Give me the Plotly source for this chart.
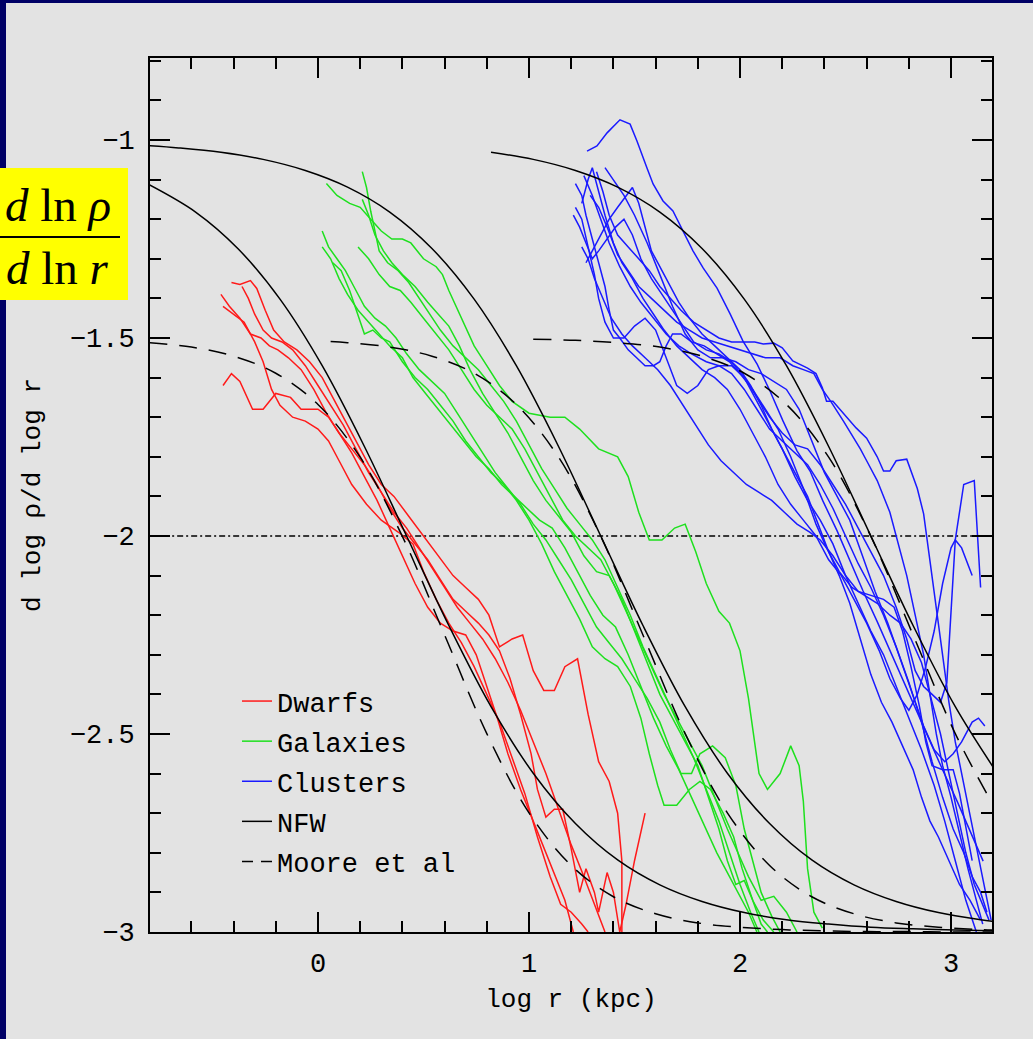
import plotly.graph_objects as go

# ---------------- data ----------------
# Theory curves
nfw_dwarf_x = [-0.8, -0.58, -0.38, -0.18, 0.02, 0.22, 0.42, 0.62, 0.82, 1.02, 1.22, 1.42, 1.62, 1.82, 2.02, 2.22, 2.42, 2.62, 2.82, 3.02, 3.2]
nfw_dwarf_y = [-1.113, -1.182, -1.274, -1.402, -1.570, -1.774, -2.0, -2.226, -2.431, -2.599, -2.726, -2.818, -2.881, -2.923, -2.951, -2.969, -2.980, -2.988, -2.992, -2.995, -2.997]

nfw_gal_x = [-0.8, -0.66, -0.46, -0.26, -0.06, 0.14, 0.34, 0.54, 0.74, 0.94, 1.14, 1.34, 1.54, 1.74, 1.94, 2.14, 2.34, 2.54, 2.74, 2.94, 3.14, 3.2]
nfw_gal_y = [-1.0145, -1.020, -1.031, -1.049, -1.077, -1.119, -1.182, -1.274, -1.402, -1.570, -1.774, -2.0, -2.226, -2.431, -2.599, -2.726, -2.818, -2.881, -2.923, -2.951, -2.969, -2.973]

nfw_clu_x = [0.82, 1.02, 1.22, 1.42, 1.62, 1.82, 2.02, 2.22, 2.42, 2.62, 2.82, 3.02, 3.2]
nfw_clu_y = [-1.031, -1.049, -1.077, -1.119, -1.182, -1.274, -1.402, -1.570, -1.774, -2.0, -2.226, -2.431, -2.584]

moore_dwarf_x = [-0.8, -0.6, -0.4, -0.2, 0.0, 0.2, 0.4, 0.6, 0.8, 1.0, 1.2, 1.4, 1.6, 1.8, 2.0, 2.2, 2.4, 2.6, 2.8, 3.0, 3.2]
moore_dwarf_y = [-1.512, -1.523, -1.546, -1.589, -1.668, -1.801, -2.001, -2.25, -2.499, -2.699, -2.832, -2.911, -2.954, -2.977, -2.988, -2.994, -2.997, -2.999, -2.999, -3.0, -3.0]

moore_gal_x = [0.06, 0.14, 0.34, 0.54, 0.74, 0.94, 1.14, 1.34, 1.54, 1.74, 1.94, 2.14, 2.34, 2.54, 2.74, 2.94, 3.14, 3.2]
moore_gal_y = [-1.509, -1.512, -1.523, -1.546, -1.589, -1.668, -1.801, -2.001, -2.25, -2.499, -2.699, -2.832, -2.911, -2.954, -2.977, -2.988, -2.994, -2.995]

moore_clu_x = [1.02, 1.22, 1.42, 1.62, 1.82, 2.02, 2.22, 2.42, 2.62, 2.82, 3.02, 3.2]
moore_clu_y = [-1.503, -1.506, -1.512, -1.523, -1.546, -1.589, -1.668, -1.801, -2.001, -2.25, -2.499, -2.68]

ref_x = [-0.8, 3.2]
ref_y = [-2.0, -2.0]

# Dwarfs
dwarf1_x = [-0.41, -0.37, -0.32, -0.29, -0.25, -0.21, -0.16, -0.10, -0.04, 0.02, 0.07, 0.12, 0.18, 0.24, 0.30, 0.36, 0.43, 0.50, 0.57, 0.64, 0.70, 0.76, 0.81, 0.86, 0.92, 0.97, 1.02, 1.07, 1.12, 1.17, 1.23, 1.28, 1.33, 1.38, 1.42, 1.44, 1.44]
dwarf1_y = [-1.36, -1.365, -1.355, -1.375, -1.43, -1.48, -1.51, -1.53, -1.56, -1.60, -1.65, -1.70, -1.76, -1.82, -1.87, -1.90, -1.95, -2.00, -2.05, -2.10, -2.13, -2.16, -2.20, -2.28, -2.26, -2.25, -2.34, -2.39, -2.39, -2.33, -2.31, -2.45, -2.57, -2.62, -2.70, -2.82, -3.0]
dwarf2_x = [-0.46, -0.42, -0.37, -0.32, -0.27, -0.23, -0.19, -0.14, -0.08, -0.02, 0.04, 0.10, 0.16, 0.22, 0.28, 0.34, 0.40, 0.46, 0.52, 0.58, 0.64, 0.70, 0.76, 0.81, 0.86, 0.91, 0.96, 1.01, 1.04, 1.08, 1.12, 1.16, 1.20, 1.24, 1.27, 1.31, 1.33, 1.37, 1.40, 1.43, 1.46, 1.50, 1.55]
dwarf2_y = [-1.39, -1.42, -1.45, -1.49, -1.50, -1.52, -1.53, -1.55, -1.58, -1.63, -1.69, -1.74, -1.78, -1.82, -1.87, -1.93, -1.98, -2.02, -2.06, -2.11, -2.16, -2.19, -2.22, -2.25, -2.29, -2.36, -2.45, -2.55, -2.64, -2.71, -2.69, -2.69, -2.79, -2.90, -2.84, -2.90, -2.95, -2.85, -2.90, -3.0, -2.93, -2.82, -2.70]
dwarf3_x = [-0.45, -0.40, -0.35, -0.30, -0.26, -0.22, -0.18, -0.12, -0.06, 0.0, 0.05, 0.10, 0.16, 0.23, 0.30, 0.38, 0.45, 0.50, 0.56, 0.62, 0.68, 0.74, 0.80, 0.86, 0.92, 0.98, 1.04, 1.10, 1.15, 1.20, 1.25, 1.28]
dwarf3_y = [-1.42, -1.44, -1.46, -1.51, -1.56, -1.63, -1.67, -1.70, -1.71, -1.73, -1.76, -1.81, -1.87, -1.92, -1.96, -1.99, -2.02, -2.09, -2.16, -2.22, -2.27, -2.33, -2.40, -2.47, -2.56, -2.65, -2.76, -2.86, -2.93, -2.95, -2.98, -3.0]
dwarf4_x = [-0.45, -0.41, -0.37, -0.31, -0.26, -0.20, -0.13, -0.08, 0.0, 0.05, 0.10, 0.16, 0.22, 0.28, 0.34, 0.40, 0.46, 0.52, 0.58, 0.64, 0.70, 0.75, 0.80, 0.85, 0.90, 0.96, 1.02, 1.08, 1.12, 1.17, 1.21]
dwarf4_y = [-1.62, -1.59, -1.61, -1.68, -1.68, -1.64, -1.65, -1.68, -1.68, -1.70, -1.74, -1.79, -1.85, -1.91, -1.98, -2.05, -2.12, -2.18, -2.22, -2.24, -2.25, -2.30, -2.38, -2.46, -2.55, -2.64, -2.72, -2.80, -2.85, -2.92, -3.0]
dwarf5_x = [-0.36, -0.33, -0.30, -0.26, -0.22, -0.17, -0.12, -0.06, 0.0, 0.06, 0.12, 0.18, 0.24, 0.30, 0.36, 0.42, 0.48, 0.54, 0.60, 0.66, 0.72, 0.78, 0.84, 0.90, 0.96, 1.02, 1.08, 1.14, 1.20, 1.26, 1.31, 1.36]
dwarf5_y = [-1.37, -1.40, -1.44, -1.48, -1.50, -1.51, -1.53, -1.57, -1.62, -1.67, -1.72, -1.78, -1.84, -1.89, -1.94, -1.98, -2.03, -2.08, -2.13, -2.18, -2.22, -2.26, -2.31, -2.37, -2.44, -2.52, -2.60, -2.69, -2.78, -2.86, -2.93, -3.0]

# Galaxies
gal1_x = [0.21, 0.23, 0.25, 0.27, 0.29, 0.33, 0.38, 0.43, 0.48, 0.53, 0.58, 0.64, 0.70, 0.76, 0.82, 0.88, 0.94, 1.00, 1.06, 1.12, 1.18, 1.24, 1.30, 1.36, 1.42, 1.48, 1.54, 1.60, 1.66, 1.72, 1.78, 1.84, 1.90, 1.95, 2.00, 2.05, 2.09]
gal1_y = [-1.08, -1.12, -1.18, -1.23, -1.28, -1.31, -1.33, -1.36, -1.40, -1.44, -1.48, -1.52, -1.55, -1.58, -1.62, -1.66, -1.71, -1.77, -1.83, -1.88, -1.93, -1.97, -2.01, -2.06, -2.13, -2.20, -2.28, -2.35, -2.42, -2.49, -2.56, -2.64, -2.72, -2.80, -2.88, -2.95, -3.0]
gal2_x = [0.04, 0.09, 0.15, 0.20, 0.25, 0.30, 0.35, 0.40, 0.44, 0.50, 0.56, 0.59, 0.62, 0.68, 0.74, 0.80, 0.86, 0.92, 1.00, 1.10, 1.17, 1.24, 1.33, 1.42, 1.47, 1.52, 1.57, 1.63, 1.69, 1.74, 1.79, 1.84, 1.90, 1.95, 2.00, 2.04, 2.07, 2.09, 2.13, 2.19, 2.24, 2.28, 2.30, 2.32, 2.35, 2.39]
gal2_y = [-1.11, -1.14, -1.16, -1.17, -1.20, -1.23, -1.25, -1.25, -1.26, -1.30, -1.32, -1.34, -1.38, -1.45, -1.52, -1.57, -1.62, -1.66, -1.69, -1.70, -1.70, -1.73, -1.78, -1.80, -1.85, -1.94, -2.01, -2.01, -1.98, -1.97, -2.04, -2.12, -2.19, -2.22, -2.29, -2.41, -2.52, -2.60, -2.64, -2.60, -2.53, -2.58, -2.67, -2.84, -2.95, -2.99]
gal3_x = [0.21, 0.24, 0.27, 0.31, 0.35, 0.40, 0.46, 0.52, 0.57, 0.62, 0.67, 0.72, 0.78, 0.84, 0.90, 0.96, 1.02, 1.08, 1.14, 1.20, 1.26, 1.32, 1.38, 1.44, 1.50, 1.56, 1.62, 1.68, 1.74, 1.80, 1.85, 1.90, 1.94, 1.98, 2.02, 2.06, 2.10, 2.13]
gal3_y = [-1.15, -1.19, -1.24, -1.28, -1.31, -1.34, -1.37, -1.41, -1.44, -1.47, -1.52, -1.58, -1.64, -1.69, -1.74, -1.80, -1.86, -1.91, -1.95, -1.99, -2.05, -2.09, -2.10, -2.16, -2.24, -2.32, -2.40, -2.46, -2.52, -2.58, -2.66, -2.74, -2.82, -2.88, -2.87, -2.92, -2.98, -3.0]
gal4_x = [0.02, 0.05, 0.09, 0.13, 0.17, 0.22, 0.27, 0.32, 0.37, 0.42, 0.48, 0.54, 0.60, 0.66, 0.72, 0.78, 0.84, 0.90, 0.96, 1.02, 1.08, 1.14, 1.20, 1.26, 1.32, 1.38, 1.44, 1.50, 1.56, 1.62, 1.67, 1.72, 1.77, 1.81, 1.87, 1.93, 1.98, 2.02, 2.06, 2.10, 2.15, 2.19]
gal4_y = [-1.23, -1.27, -1.30, -1.33, -1.37, -1.42, -1.45, -1.47, -1.50, -1.54, -1.58, -1.61, -1.64, -1.69, -1.74, -1.79, -1.84, -1.88, -1.92, -1.97, -2.01, -2.06, -2.11, -2.17, -2.23, -2.27, -2.31, -2.36, -2.41, -2.47, -2.54, -2.60, -2.60, -2.55, -2.53, -2.56, -2.63, -2.74, -2.82, -2.90, -2.96, -3.0]
gal5_x = [0.02, 0.06, 0.10, 0.14, 0.19, 0.24, 0.29, 0.34, 0.40, 0.45, 0.51, 0.57, 0.63, 0.69, 0.75, 0.81, 0.87, 0.93, 0.99, 1.05, 1.11, 1.17, 1.23, 1.29, 1.35, 1.41, 1.47, 1.53, 1.59, 1.65, 1.71, 1.77, 1.83, 1.89, 1.94, 1.99, 2.04, 2.08]
gal5_y = [-1.27, -1.30, -1.35, -1.39, -1.43, -1.46, -1.49, -1.52, -1.55, -1.60, -1.64, -1.68, -1.72, -1.76, -1.80, -1.83, -1.87, -1.90, -1.93, -1.96, -1.98, -2.03, -2.09, -2.15, -2.20, -2.23, -2.30, -2.38, -2.46, -2.53, -2.59, -2.66, -2.73, -2.80, -2.85, -2.90, -2.95, -3.0]
gal6_x = [0.19, 0.24, 0.29, 0.34, 0.39, 0.44, 0.50, 0.56, 0.62, 0.68, 0.74, 0.80, 0.86, 0.92, 0.98, 1.04, 1.10, 1.16, 1.22, 1.28, 1.34, 1.40, 1.46, 1.52, 1.58, 1.64, 1.70, 1.76, 1.82, 1.88, 1.94, 1.99, 2.04, 2.10, 2.16, 2.22, 2.27]
gal6_y = [-1.27, -1.30, -1.34, -1.37, -1.38, -1.41, -1.45, -1.49, -1.53, -1.58, -1.63, -1.67, -1.70, -1.73, -1.78, -1.84, -1.90, -1.96, -2.00, -2.03, -2.06, -2.12, -2.19, -2.26, -2.33, -2.40, -2.46, -2.52, -2.58, -2.66, -2.74, -2.80, -2.86, -2.92, -2.91, -2.95, -3.0]
gal7_x = [0.07, 0.11, 0.15, 0.19, 0.22, 0.26, 0.30, 0.34, 0.40, 0.46, 0.52, 0.58, 0.64, 0.70, 0.76, 0.82, 0.88, 0.94, 1.00, 1.06, 1.12, 1.18, 1.24, 1.30, 1.36, 1.42, 1.48, 1.53, 1.57, 1.61, 1.64, 1.70, 1.76, 1.81, 1.86, 1.92, 1.97, 2.01, 2.06, 2.11, 2.16]
gal7_y = [-1.31, -1.33, -1.38, -1.44, -1.49, -1.48, -1.50, -1.51, -1.56, -1.60, -1.63, -1.67, -1.71, -1.76, -1.80, -1.84, -1.87, -1.91, -1.96, -2.02, -2.09, -2.15, -2.21, -2.28, -2.31, -2.33, -2.38, -2.46, -2.55, -2.63, -2.68, -2.68, -2.64, -2.62, -2.64, -2.70, -2.76, -2.84, -2.92, -2.97, -3.0]

# Clusters
clu1_x = [1.275, 1.322, 1.37, 1.431, 1.479, 1.512, 1.559, 1.588, 1.635, 1.682, 1.73, 1.777, 1.825, 1.891, 1.953, 2.014, 2.081, 2.142, 2.204, 2.27, 2.332, 2.393, 2.46, 2.521, 2.583, 2.649, 2.711, 2.773, 2.839, 2.90, 2.962, 3.028, 3.09, 3.152]
clu1_y = [-1.028, -1.015, -0.982, -0.949, -0.96, -1.003, -1.071, -1.111, -1.154, -1.179, -1.23, -1.28, -1.323, -1.374, -1.439, -1.508, -1.566, -1.634, -1.71, -1.785, -1.836, -1.912, -1.987, -2.063, -2.139, -2.215, -2.29, -2.366, -2.442, -2.518, -2.593, -2.669, -2.745, -2.821]
clu2_x = [1.22, 1.25, 1.27, 1.30, 1.33, 1.36, 1.38, 1.40, 1.43, 1.47, 1.51, 1.55, 1.59, 1.62, 1.65, 1.68, 1.72, 1.77, 1.83, 1.89, 1.95, 2.00, 2.06, 2.12, 2.18, 2.24, 2.30, 2.36, 2.41, 2.47, 2.53, 2.59, 2.65, 2.71, 2.76, 2.81, 2.86, 2.90, 2.95, 2.99, 3.03, 3.07, 3.11, 3.15, 3.18]
clu2_y = [-1.11, -1.14, -1.19, -1.25, -1.31, -1.37, -1.43, -1.48, -1.50, -1.53, -1.55, -1.57, -1.57, -1.56, -1.52, -1.49, -1.49, -1.51, -1.52, -1.54, -1.56, -1.59, -1.63, -1.68, -1.73, -1.80, -1.88, -1.97, -2.03, -2.09, -2.13, -2.15, -2.17, -2.20, -2.22, -2.26, -2.32, -2.40, -2.50, -2.60, -2.70, -2.80, -2.88, -2.93, -2.97]
clu3_x = [1.21, 1.24, 1.27, 1.30, 1.33, 1.37, 1.41, 1.45, 1.49, 1.53, 1.58, 1.63, 1.68, 1.73, 1.78, 1.84, 1.90, 1.96, 2.02, 2.08, 2.14, 2.20, 2.26, 2.32, 2.38, 2.44, 2.50, 2.56, 2.62, 2.68, 2.74, 2.80, 2.86, 2.92, 2.97, 3.02, 3.07, 3.12]
clu3_y = [-1.19, -1.22, -1.26, -1.30, -1.28, -1.25, -1.22, -1.20, -1.24, -1.30, -1.35, -1.39, -1.43, -1.47, -1.51, -1.53, -1.54, -1.56, -1.60, -1.66, -1.72, -1.78, -1.85, -1.91, -1.96, -2.02, -2.10, -2.17, -2.24, -2.30, -2.38, -2.46, -2.54, -2.63, -2.72, -2.82, -2.92, -3.0]
clu4_x = [1.27, 1.30, 1.34, 1.38, 1.42, 1.46, 1.49, 1.52, 1.55, 1.58, 1.62, 1.66, 1.71, 1.76, 1.82, 1.88, 1.94, 2.00, 2.05, 2.10, 2.15, 2.20, 2.26, 2.32, 2.37, 2.42, 2.47, 2.52, 2.57, 2.62, 2.67, 2.72, 2.77, 2.82, 2.86, 2.90, 2.94, 2.99, 3.04, 3.09, 3.14]
clu4_y = [-1.31, -1.28, -1.24, -1.20, -1.17, -1.14, -1.12, -1.16, -1.22, -1.28, -1.32, -1.36, -1.41, -1.45, -1.49, -1.52, -1.55, -1.58, -1.62, -1.67, -1.73, -1.78, -1.84, -1.90, -1.97, -2.04, -2.10, -2.17, -2.26, -2.35, -2.42, -2.47, -2.53, -2.59, -2.66, -2.72, -2.76, -2.82, -2.88, -2.92, -2.97]
clu5_x = [1.32, 1.35, 1.38, 1.42, 1.47, 1.52, 1.57, 1.62, 1.67, 1.72, 1.78, 1.84, 1.90, 1.96, 2.02, 2.07, 2.11, 2.16, 2.20, 2.25, 2.32, 2.36, 2.39, 2.41, 2.44, 2.49, 2.55, 2.60, 2.65, 2.68, 2.71, 2.74, 2.79, 2.84, 2.87, 2.90, 2.93, 2.96, 2.99, 3.02, 3.05, 3.08, 3.11, 3.14, 3.17, 3.19]
clu5_y = [-1.08, -1.13, -1.19, -1.24, -1.27, -1.30, -1.33, -1.37, -1.40, -1.43, -1.46, -1.48, -1.50, -1.51, -1.51, -1.51, -1.515, -1.513, -1.525, -1.558, -1.576, -1.59, -1.626, -1.66, -1.66, -1.69, -1.727, -1.753, -1.80, -1.836, -1.836, -1.81, -1.806, -1.88, -1.944, -2.063, -2.18, -2.30, -2.42, -2.52, -2.60, -2.68, -2.76, -2.84, -2.92, -2.97]
clu6_x = [1.26, 1.30, 1.34, 1.38, 1.43, 1.48, 1.53, 1.59, 1.65, 1.71, 1.77, 1.84, 1.90, 1.96, 2.02, 2.08, 2.14, 2.20, 2.26, 2.32, 2.38, 2.44, 2.50, 2.56, 2.62, 2.68, 2.74, 2.79, 2.83, 2.87, 2.91, 2.95, 2.98, 3.00, 3.02, 3.06, 3.11, 3.12, 3.13, 3.14]
clu6_y = [-1.09, -1.14, -1.20, -1.26, -1.32, -1.37, -1.41, -1.45, -1.49, -1.52, -1.54, -1.56, -1.57, -1.57, -1.60, -1.65, -1.70, -1.74, -1.77, -1.78, -1.82, -1.87, -1.92, -1.98, -2.04, -2.10, -2.18, -2.26, -2.34, -2.38, -2.40, -2.42, -2.37, -2.20, -2.01, -1.87, -1.86, -1.95, -2.05, -2.13]
clu7_x = [1.25, 1.28, 1.30, 1.33, 1.36, 1.40, 1.44, 1.49, 1.54, 1.59, 1.64, 1.70, 1.76, 1.82, 1.88, 1.94, 2.00, 2.06, 2.12, 2.18, 2.24, 2.30, 2.36, 2.42, 2.48, 2.54, 2.60, 2.66, 2.71, 2.76, 2.80, 2.84, 2.88, 2.92, 2.96, 3.00, 3.02, 3.05, 3.08, 3.10]
clu7_y = [-1.16, -1.10, -1.07, -1.13, -1.19, -1.26, -1.31, -1.35, -1.40, -1.44, -1.48, -1.52, -1.55, -1.58, -1.60, -1.63, -1.68, -1.74, -1.80, -1.87, -1.92, -1.96, -2.00, -2.06, -2.10, -2.16, -2.22, -2.29, -2.36, -2.41, -2.44, -2.40, -2.33, -2.24, -2.12, -2.03, -2.01, -2.03, -2.07, -2.10]
clu8_x = [1.36, 1.40, 1.45, 1.50, 1.56, 1.62, 1.68, 1.74, 1.80, 1.86, 1.92, 1.98, 2.04, 2.10, 2.16, 2.22, 2.28, 2.34, 2.40, 2.46, 2.52, 2.58, 2.64, 2.70, 2.76, 2.82, 2.87, 2.92, 2.97, 3.01, 3.05, 3.10, 3.13, 3.16]
clu8_y = [-1.07, -1.10, -1.14, -1.19, -1.26, -1.34, -1.42, -1.49, -1.53, -1.55, -1.55, -1.56, -1.58, -1.59, -1.61, -1.63, -1.68, -1.76, -1.84, -1.90, -1.96, -2.05, -2.14, -2.22, -2.31, -2.40, -2.48, -2.54, -2.57, -2.55, -2.52, -2.47, -2.46, -2.48]
clu9_x = [1.22, 1.25, 1.28, 1.31, 1.33, 1.36, 1.40, 1.45, 1.50, 1.55, 1.60, 1.65, 1.70, 1.75, 1.80, 1.85, 1.90, 1.96, 2.02, 2.08, 2.14, 2.20, 2.26, 2.32, 2.38, 2.44, 2.50, 2.56, 2.62, 2.68, 2.74, 2.80, 2.86, 2.91, 2.96, 3.01, 3.06, 3.10, 3.14, 3.17]
clu9_y = [-1.17, -1.20, -1.27, -1.34, -1.40, -1.46, -1.50, -1.50, -1.47, -1.45, -1.48, -1.55, -1.62, -1.64, -1.62, -1.58, -1.57, -1.59, -1.63, -1.68, -1.73, -1.76, -1.79, -1.82, -1.87, -1.93, -2.00, -2.07, -2.13, -2.20, -2.28, -2.37, -2.47, -2.57, -2.66, -2.74, -2.80, -2.86, -2.90, -2.95]
clu10_x = [1.29, 1.33, 1.37, 1.42, 1.47, 1.52, 1.58, 1.64, 1.70, 1.76, 1.82, 1.88, 1.94, 2.00, 2.06, 2.12, 2.19, 2.25, 2.30, 2.35, 2.39, 2.43, 2.49, 2.53, 2.57, 2.60, 2.65, 2.71, 2.75, 2.79, 2.83, 2.87, 2.90, 2.93, 2.96, 3.00, 3.04, 3.08, 3.12, 3.15]
clu10_y = [-1.14, -1.17, -1.22, -1.29, -1.33, -1.37, -1.40, -1.43, -1.46, -1.48, -1.50, -1.51, -1.52, -1.53, -1.54, -1.55, -1.55, -1.57, -1.58, -1.59, -1.63, -1.66, -1.71, -1.745, -1.78, -1.81, -1.86, -1.94, -2.02, -2.10, -2.20, -2.30, -2.40, -2.50, -2.58, -2.66, -2.75, -2.84, -2.92, -2.98]
clu11_x = [1.25, 1.28, 1.31, 1.35, 1.39, 1.44, 1.49, 1.55, 1.61, 1.67, 1.73, 1.79, 1.85, 1.91, 1.97, 2.03, 2.09, 2.15, 2.21, 2.27, 2.33, 2.38, 2.44, 2.50, 2.56, 2.62, 2.68, 2.73, 2.77, 2.81, 2.85, 2.88, 2.91, 2.96, 3.01, 3.04, 3.07, 3.10]
clu11_y = [-1.27, -1.30, -1.35, -1.40, -1.45, -1.49, -1.52, -1.55, -1.58, -1.62, -1.67, -1.72, -1.77, -1.81, -1.84, -1.87, -1.89, -1.91, -1.94, -1.97, -1.99, -2.01, -2.05, -2.10, -2.14, -2.15, -2.16, -2.18, -2.24, -2.33, -2.43, -2.52, -2.58, -2.59, -2.59, -2.65, -2.74, -2.82]

x_tick_vals = [0, 1, 2, 3]
x_tick_text = ["0", "1", "2", "3"]
y_tick_vals = [-1, -1.5, -2, -2.5, -3]
y_tick_text = ["\u22121", "\u22121.5", "\u22122", "\u22122.5", "\u22123"]

legend_names = ["Dwarfs", "Galaxies", "Clusters", "NFW", "Moore et al"]

# ---------------- figure ----------------
RED = "#ff1a1a"
GREEN = "#1ee01e"
BLUE = "#1a1aff"
BLACK = "#000000"
MONO = "Liberation Mono"

fig = go.Figure()

def add(x, y, color, name, group, first, dash="solid", width=1.5, shape="linear", rank=1):
    fig.add_trace(go.Scatter(
        x=x, y=y, mode="lines", name=name, legendgroup=group, showlegend=first,
        legendrank=rank, line=dict(color=color, width=width, dash=dash, shape=shape),
        hoverinfo="skip"))

# reference line
fig.add_trace(go.Scatter(x=ref_x, y=ref_y, mode="lines", showlegend=False,
                         line=dict(color=BLACK, width=1.5, dash="6px,3px,2px,3px"), hoverinfo="skip"))

dwarfs = [(dwarf1_x, dwarf1_y), (dwarf2_x, dwarf2_y), (dwarf3_x, dwarf3_y), (dwarf4_x, dwarf4_y), (dwarf5_x, dwarf5_y)]
gals = [(gal1_x, gal1_y), (gal2_x, gal2_y), (gal3_x, gal3_y), (gal4_x, gal4_y), (gal5_x, gal5_y), (gal6_x, gal6_y), (gal7_x, gal7_y)]
clus = [(clu1_x, clu1_y), (clu2_x, clu2_y), (clu3_x, clu3_y), (clu4_x, clu4_y), (clu5_x, clu5_y), (clu6_x, clu6_y),
        (clu7_x, clu7_y), (clu8_x, clu8_y), (clu9_x, clu9_y), (clu10_x, clu10_y), (clu11_x, clu11_y)]

for i, (x, y) in enumerate(dwarfs):
    add(x, y, RED, legend_names[0], "d", i == 0, rank=1)
for i, (x, y) in enumerate(gals):
    add(x, y, GREEN, legend_names[1], "g", i == 0, rank=2)
for i, (x, y) in enumerate(clus):
    add(x, y, BLUE, legend_names[2], "c", i == 0, rank=3)

for i, (x, y) in enumerate([(nfw_dwarf_x, nfw_dwarf_y), (nfw_gal_x, nfw_gal_y), (nfw_clu_x, nfw_clu_y)]):
    add(x, y, BLACK, legend_names[3], "n", i == 0, width=1.5, shape="spline", rank=4)
for i, (x, y) in enumerate([(moore_dwarf_x, moore_dwarf_y), (moore_gal_x, moore_gal_y), (moore_clu_x, moore_clu_y)]):
    add(x, y, BLACK, legend_names[4], "m", False, dash="18px,12px", width=1.5, shape="spline", rank=5)
# legend-only entry for the Moore curves (shorter dashes so the sample shows the pattern)
fig.add_trace(go.Scatter(x=[None], y=[None], mode="lines", name=legend_names[4], legendgroup="m",
                         showlegend=True, legendrank=5,
                         line=dict(color=BLACK, width=1.5, dash="11px,8px")))

W, H = 1033, 1039
L, R, T, B = 150, 41, 58, 107
pw, ph = W - L - R, H - T - B

def px(xp):
    return (xp - L) / pw

def py(yp):
    return (H - B - yp) / ph

axis_common = dict(
    showgrid=False, zeroline=False, showline=True, linecolor=BLACK, linewidth=2,
    mirror="allticks", ticks="inside", ticklen=20, tickwidth=2, tickcolor=BLACK,
    tickfont=dict(family=MONO, size=27, color=BLACK),
    title_font=dict(family=MONO, size=26, color=BLACK),
)

fig.update_layout(
    width=W, height=H,
    margin=dict(l=L, r=R, t=T, b=B),
    paper_bgcolor="#e3e3e3", plot_bgcolor="#e3e3e3",
    xaxis=dict(range=[-0.796, 3.194], tickvals=x_tick_vals, ticktext=x_tick_text,
               minor=dict(ticks="inside", ticklen=11, tickwidth=2, tickcolor=BLACK, dtick=0.2, tick0=0, showgrid=False),
               title=dict(text="log r (kpc)", standoff=9), ticklabelstandoff=6, **axis_common),
    yaxis=dict(range=[-3.0, -0.793], tickvals=y_tick_vals, ticktext=y_tick_text,
               minor=dict(ticks="inside", ticklen=11, tickwidth=2, tickcolor=BLACK, dtick=0.1, tick0=0, showgrid=False),
               title=dict(text="d log \u03c1/d log r", standoff=22), ticklabelstandoff=8, **axis_common),
    legend=dict(x=px(237), y=py(677), xanchor="left", yanchor="top", bgcolor="rgba(0,0,0,0)",
                font=dict(family=MONO, size=27, color=BLACK), traceorder="grouped", tracegroupgap=2),
    showlegend=True,
)

shapes = [
    dict(type="rect", xref="paper", yref="paper", x0=px(0), x1=px(6), y0=py(H), y1=py(0),
         fillcolor="#000066", line=dict(width=0), layer="below"),
    dict(type="rect", xref="paper", yref="paper", x0=px(0), x1=px(W), y0=py(3), y1=py(0),
         fillcolor="#000066", line=dict(width=0), layer="below"),
    dict(type="rect", xref="paper", yref="paper", x0=px(0), x1=px(128), y0=py(300), y1=py(168),
         fillcolor="#ffff00", line=dict(width=0), layer="below"),
    dict(type="line", xref="paper", yref="paper", x0=px(0), x1=px(120), y0=py(237), y1=py(237),
         line=dict(color=BLACK, width=2), layer="below"),
]
fig.update_layout(shapes=shapes)

fig.add_annotation(xref="paper", yref="paper", x=px(58), y=py(205), xanchor="center", yanchor="middle",
                   text="<i>d</i> ln <i>\u03c1</i>", showarrow=False,
                   font=dict(family="Liberation Serif", size=47, color=BLACK))
fig.add_annotation(xref="paper", yref="paper", x=px(57), y=py(268), xanchor="center", yanchor="middle",
                   text="<i>d</i> ln <i>r</i>", showarrow=False,
                   font=dict(family="Liberation Serif", size=47, color=BLACK))

fig.write_html("out.html")
